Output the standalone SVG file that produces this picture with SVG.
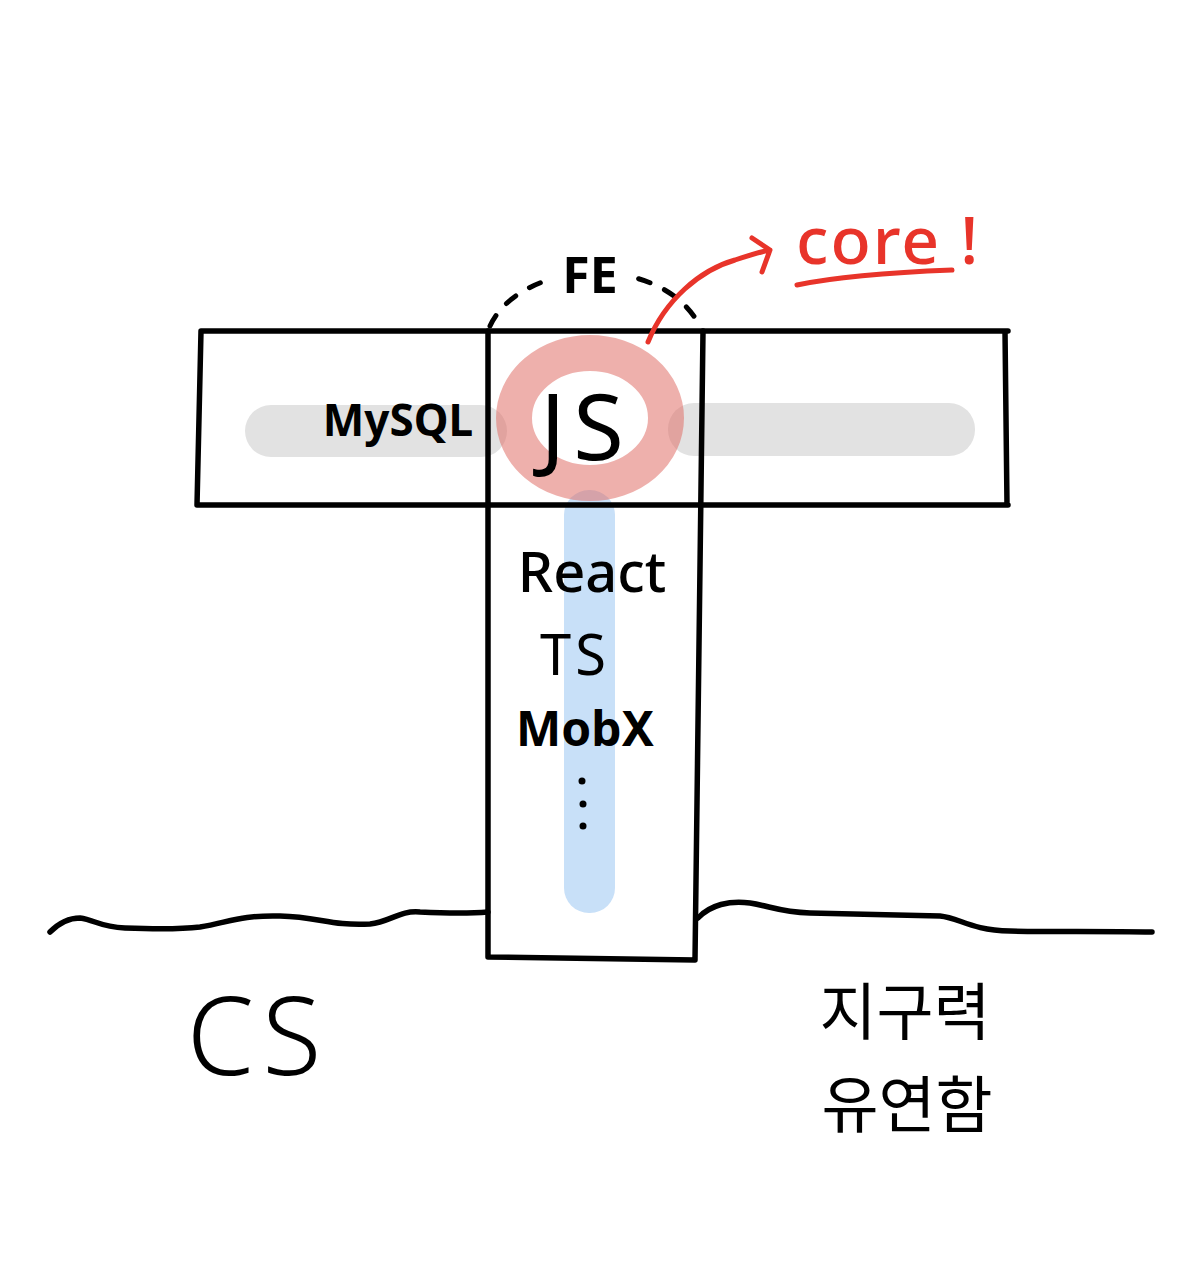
<svg xmlns="http://www.w3.org/2000/svg" width="1198" height="1282" viewBox="0 0 1198 1282">
<style>
.ln{fill:none;stroke:#000;stroke-width:5.5;stroke-linecap:round;stroke-linejoin:round}
.t{font-family:"Noto Sans","Noto Sans CJK KR",sans-serif;fill:#000}
.red{fill:none;stroke:#e8342a;stroke-width:5;stroke-linecap:round;stroke-linejoin:round}
</style>
<rect width="1198" height="1282" fill="#fff"/>
<g id="highlights">
<rect x="245" y="405" width="262" height="52" rx="26" fill="#e2e2e2"/>
<rect x="668" y="403" width="307" height="53" rx="26" fill="#e2e2e2"/>
<rect x="564" y="490" width="51" height="423" rx="25" fill="#c8e0f8"/>
<ellipse cx="590" cy="418" rx="76" ry="65" fill="none" stroke="#e07068" stroke-opacity="0.55" stroke-width="36"/>
</g>
<g id="t-shape">
<path class="ln" d="M201,331 L1008,331 M1005,331 L1007,505 M1008,505 L197,505 M197,505 L201,331"/>
<path class="ln" d="M488,331 L488,957 L695,960 L703,331"/>
</g>
<g id="ground">
<path class="ln" d="M50,932 C60,922 70,918 80,918 C95,920 100,927 125,928 C150,929 175,930 200,927 C230,922 240,915 280,916 C320,917 330,926 370,924 C390,922 400,910 420,912 C440,913 465,914 488,912"/>
<path class="ln" d="M698,918 C710,905 730,900 750,903 C770,906 780,912 810,913 C840,914 900,915 940,916 C960,918 970,930 1010,931 C1050,932 1100,931 1152,932"/>
</g>
<g id="fe">
<path d="M490,326 C520,260 660,250 700,326" fill="none" stroke="#000" stroke-width="5" stroke-linecap="round" stroke-dasharray="12 16"/>
<rect x="545" y="245" width="90" height="50" fill="#fff"/>
<text class="t" x="590" y="293" font-size="50" font-weight="700" text-anchor="middle">FE</text>
</g>
<g id="core">
<path class="red" d="M648,342 C665,300 700,270 735,260 C750,255 760,252 770,250 M752,238 L770,250 L762,272"/>
<text x="796" y="264" font-family="Noto Sans,sans-serif" font-size="66" fill="#e8342a" font-weight="500" letter-spacing="2">core !</text>
<path class="red" d="M797,285 C840,276 900,272 952,270" stroke-width="6"/>
</g>
<g id="labels">
<text class="t" x="398" y="436" font-size="44" font-weight="700" text-anchor="middle">MySQL</text>
<text class="t" x="586" y="460" font-size="92" text-anchor="middle" letter-spacing="8">JS</text>
<text class="t" x="592" y="592" font-size="56" font-weight="500" text-anchor="middle">React</text>
<text class="t" x="575" y="675" font-size="56" text-anchor="middle" letter-spacing="4">TS</text>
<text class="t" x="585" y="746" font-size="48" font-weight="700" text-anchor="middle">MobX</text>
<circle cx="582" cy="781" r="3.5"/><circle cx="583" cy="804" r="3.5"/><circle cx="583" cy="826" r="3.5"/>
<text class="t" x="258" y="1075" font-size="108" font-weight="300" text-anchor="middle" letter-spacing="8">CS</text>
<text class="t" x="905" y="1035" font-size="62" text-anchor="middle">지구력</text>
<text class="t" x="907" y="1128" font-size="62" text-anchor="middle">유연함</text>
</g>
</svg>
